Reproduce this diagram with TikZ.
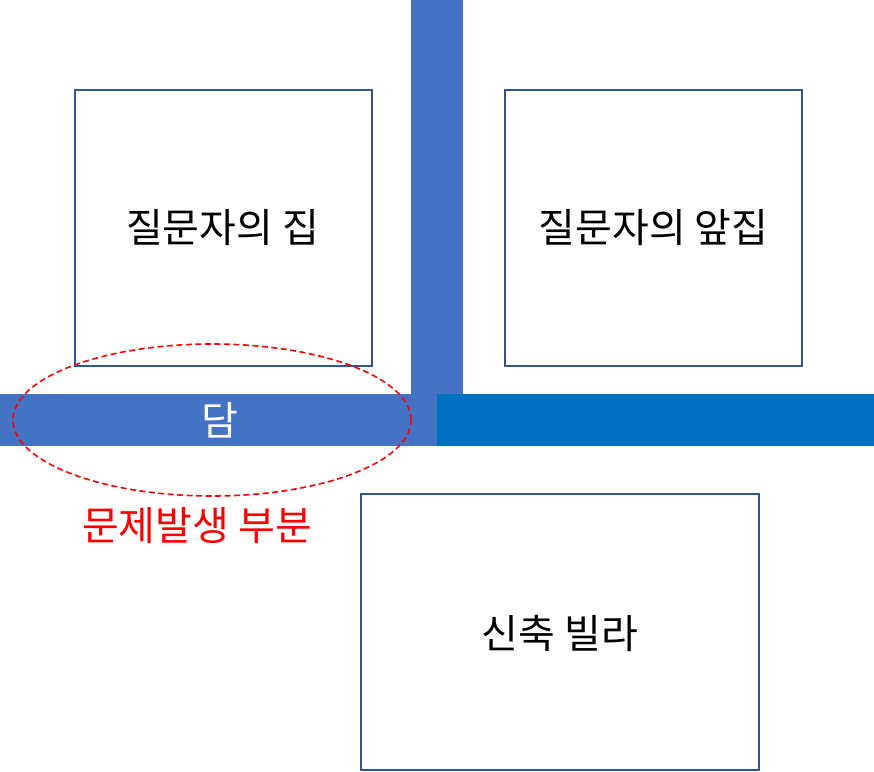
\documentclass[tikz,border=0pt]{standalone}
\usepackage{fontspec}
\usetikzlibrary{shapes.geometric}
\newfontfamily\kr{Noto Sans CJK KR}
\definecolor{barA}{HTML}{4472C4}
\definecolor{barB}{HTML}{0070C0}
\definecolor{boxline}{HTML}{2F5597}
\begin{document}
\begin{tikzpicture}[x=1bp,y=-1bp,
  house/.style={draw=boxline,line width=1.3bp,fill=white},
  lbl/.style={font=\kr\fontsize{40bp}{44bp}\selectfont,text=black,inner sep=0pt},
  zone/.style={draw=red,line width=1.6bp,dash pattern=on 6bp off 3.5bp}]
\useasboundingbox (0,0) rectangle (874,772);
\fill[white] (0,0) rectangle (874,772);
% roads / walls
\fill[barA] (410.5,0) rectangle (462.7,394);
\fill[barA] (0,394) rectangle (437,446);
\fill[barB] (437,394) rectangle (874,446);
% buildings
\draw[house] (75,90) rectangle (372,366);
\draw[house] (505,90) rectangle (802,366);
\draw[house] (361,494) rectangle (759,770);
\node[lbl] (home) at (222.5,228) {질문자의 집};
\node[lbl] (front) at (653.5,228) {질문자의 앞집};
\node[lbl] (villa) at (560,633) {신축 빌라};
\node[lbl,text=white] (wall) at (220,420) {담};
% problem zone
\node[zone,ellipse,minimum width=398bp,minimum height=152bp,inner sep=0pt] (zoneE) at (212,420) {};
\node[lbl,text=red] (problem) at (197,526) {문제발생 부분};
\end{tikzpicture}
\end{document}
